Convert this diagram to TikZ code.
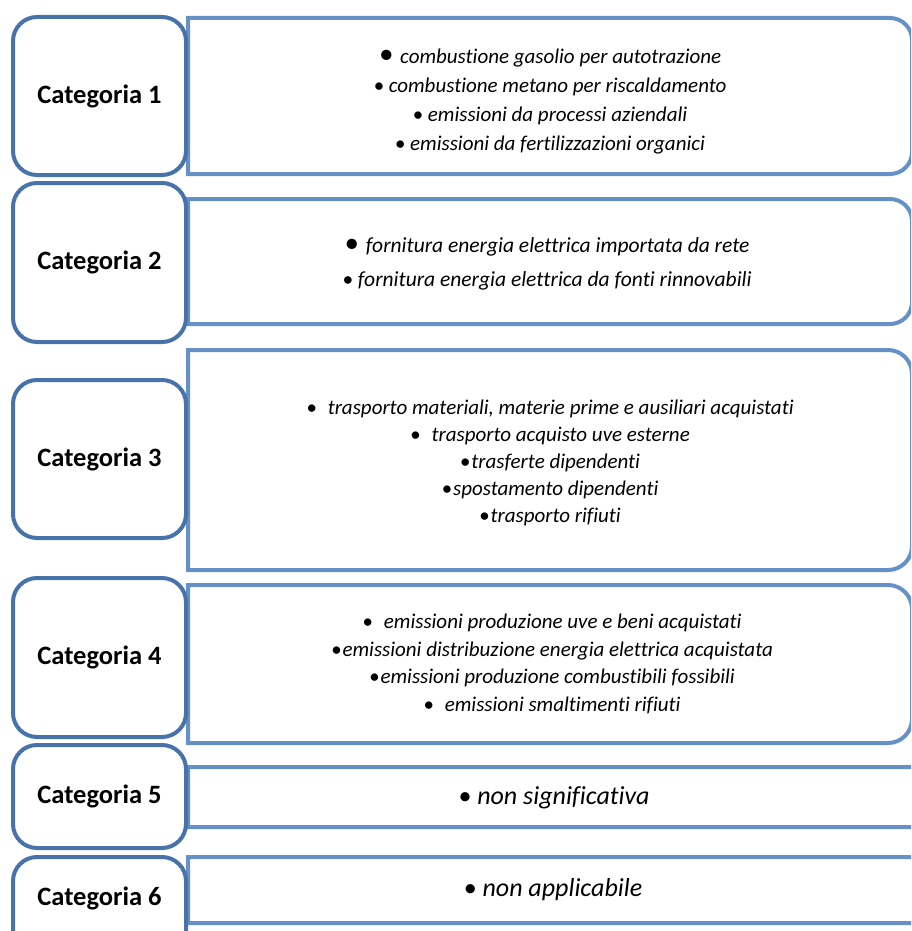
\documentclass[tikz,border=0pt]{standalone}
\usepackage{fontspec}
\setmainfont{Carlito}[Ligatures=NoCommon]
\definecolor{catblue}{RGB}{72,115,170}
\definecolor{listblue}{RGB}{101,145,199}
\tikzset{
	catbox/.style={draw=catblue,line width=4,rounded corners=24,fill=white,minimum width=173,minimum height=#1,font=\fontsize{26.5}{26.5}\selectfont\bfseries},
	catlabel/.style={font=\fontsize{26.5}{26.5}\selectfont\bfseries},
	listframe/.style={draw=listblue,line width=4},
	listtext/.style 2 args={align=center,font=\fontsize{#1}{#2}\selectfont\itshape},
}
\begin{document}
\begin{tikzpicture}[x=1pt,y=-1pt]
		\useasboundingbox (0,0) rectangle (911,931);
		\clip (0,0) rectangle (911,931);
		% frames on the right
		\draw[listframe] (188,18) [rounded corners=22] -- (912,18) -- (912,174) [sharp corners] -- (188,174) -- cycle;
		\draw[listframe] (188,199) [rounded corners=22] -- (912,199) -- (912,324) [sharp corners] -- (188,324) -- cycle;
		\draw[listframe] (188,350) [rounded corners=24] -- (912,350) -- (912,570) [sharp corners] -- (188,570) -- cycle;
		\draw[listframe] (188,585) [rounded corners=24] -- (912,585) -- (912,743) [sharp corners] -- (188,743) -- cycle;
		\draw[listframe] (188,767) [rounded corners=22] -- (960,767) -- (960,827) [sharp corners] -- (188,827) -- cycle;
		\draw[listframe] (188,857) [rounded corners=22] -- (960,857) -- (960,923) [sharp corners] -- (188,923) -- cycle;
		% categories
		\node[catbox=158] (cat1) at (99.5,96) {Categoria 1};
		\node[catbox=159] (cat2) at (99.5,262.5) {Categoria 2};
		\node[catbox=158] (cat3) at (99.5,459) {Categoria 3};
		\node[catbox=159] (cat4) at (99.5,657.5) {Categoria 4};
		\node[catbox=103] (cat5) at (99.5,796.5) {Categoria 5};
		\node[catbox=110,anchor=north] (cat6) at (99.5,855) {};
		\node[catlabel] (lab6) at (99.5,898) {Categoria 6};
		% lists
		\node[listtext={21}{29}] (list1) at (550,102) {{\fontsize{29}{20}\selectfont\textbullet}\hspace{7pt}combustione gasolio per autotrazione\\
			\textbullet\ combustione metano per riscaldamento\\
			\textbullet\ emissioni da processi aziendali\\
			\textbullet\ emissioni da fertilizzazioni organici};
		\node[listtext={21.5}{34}] (list2) at (547,264) {{\fontsize{29}{20}\selectfont\textbullet}\hspace{7pt}fornitura energia elettrica importata da rete\\
			\textbullet\ fornitura energia elettrica da fonti rinnovabili};
		\node[listtext={21}{27}] (list3) at (550,463) {\textbullet\hspace{11pt}trasporto materiali, materie prime e ausiliari acquistati\\
			\textbullet\hspace{11pt}trasporto acquisto uve esterne\\
			\textbullet\hspace{1pt}trasferte dipendenti\\
			\textbullet\hspace{1pt}spostamento dipendenti\\
			\textbullet\hspace{1pt}trasporto rifiuti};
		\node[listtext={21}{27.5}] (list4) at (552,664) {\textbullet\hspace{11pt}emissioni produzione uve e beni acquistati\\
			\textbullet\hspace{1pt}emissioni distribuzione energia elettrica acquistata\\
			\textbullet\hspace{1pt}emissioni produzione combustibili fossibili\\
			\textbullet\hspace{11pt}emissioni smaltimenti rifiuti};
		\node[listtext={26}{28}] (list5) at (554,798) {\textbullet\ non significativa};
		\node[listtext={26}{28}] (list6) at (553,890) {\textbullet\ non applicabile};
	\end{tikzpicture}
\end{document}
